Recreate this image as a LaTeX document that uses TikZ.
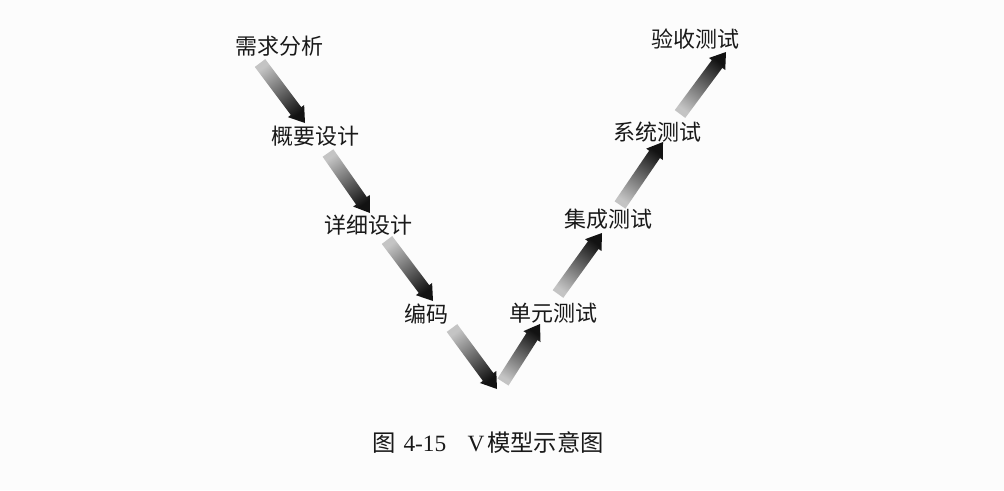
\documentclass[tikz,border=0pt]{standalone}
\usepackage{fontspec}
\setmainfont{Liberation Serif}
\newfontfamily\cjk{Noto Sans CJK SC}
\usetikzlibrary{calc}
\definecolor{arrowlight}{HTML}{C4C4C4}
\definecolor{arrowdark}{HTML}{121212}
\definecolor{paper}{HTML}{FCFCFC}
\newcommand\fatarrow[3]{%
  \coordinate (#2-base) at ($(#2)!11.2pt!(#1)$);
  \shade[top color=arrowlight, bottom color=arrowdark, shading angle=#3]
    ($(#1)!4.9pt!90:(#2)$) -- ($(#2-base)!4.9pt!90:(#2)$) --
    ($(#2-base)!7.6pt!90:(#2)$) -- (#2) --
    ($(#2-base)!7.6pt!-90:(#2)$) -- ($(#2-base)!4.9pt!-90:(#2)$) --
    ($(#1)!4.9pt!-90:(#2)$) -- cycle;}
\begin{document}
\begin{tikzpicture}[x=0.75pt,y=-0.75pt,
  lbl/.style={font=\cjk\fontsize{16.5}{18}\selectfont, inner sep=0pt, text=black!90}]
\fill[paper] (0,0) rectangle (1004,490);
\useasboundingbox (0,0) rectangle (1004,490);

% labels
\node[lbl] (req)  at (279,46)  {需求分析};
\node[lbl] (hld)  at (315,136) {概要设计};
\node[lbl] (dd)   at (368,225) {详细设计};
\node[lbl] (code) at (426,314) {编码};
\node[lbl] (ut)   at (553,313) {单元测试};
\node[lbl] (it)   at (608,219) {集成测试};
\node[lbl] (st)   at (657,132) {系统测试};
\node[lbl] (at)   at (695,39)  {验收测试};

% arrow end points
\coordinate (t1) at (260,63);  \coordinate (h1) at (305,123);
\coordinate (t2) at (328,153); \coordinate (h2) at (370,213);
\coordinate (t3) at (387,240); \coordinate (h3) at (433,301);
\coordinate (t4) at (452,328); \coordinate (h4) at (497,389);
\coordinate (t5) at (503,382); \coordinate (h5) at (540,324);
\coordinate (t6) at (558,294); \coordinate (h6) at (602,233);
\coordinate (t7) at (620,205); \coordinate (h7) at (663,142);
\coordinate (t8) at (680,114); \coordinate (h8) at (726,52);

\fatarrow{t1}{h1}{36.9}
\fatarrow{t2}{h2}{35}
\fatarrow{t3}{h3}{37}
\fatarrow{t4}{h4}{36.4}
\fatarrow{t5}{h5}{147.5}
\fatarrow{t6}{h6}{143.7}
\fatarrow{t7}{h7}{145.7}
\fatarrow{t8}{h8}{143.4}

% caption
\node[inner sep=0pt, font=\fontsize{17.5}{19}\selectfont, text=black!90] (cap) at (488,443)
  {{\cjk 图}\hspace{6pt}4-15\hspace{16pt}V\hspace{2pt}{\cjk 模型示意图}};
\end{tikzpicture}
\end{document}
